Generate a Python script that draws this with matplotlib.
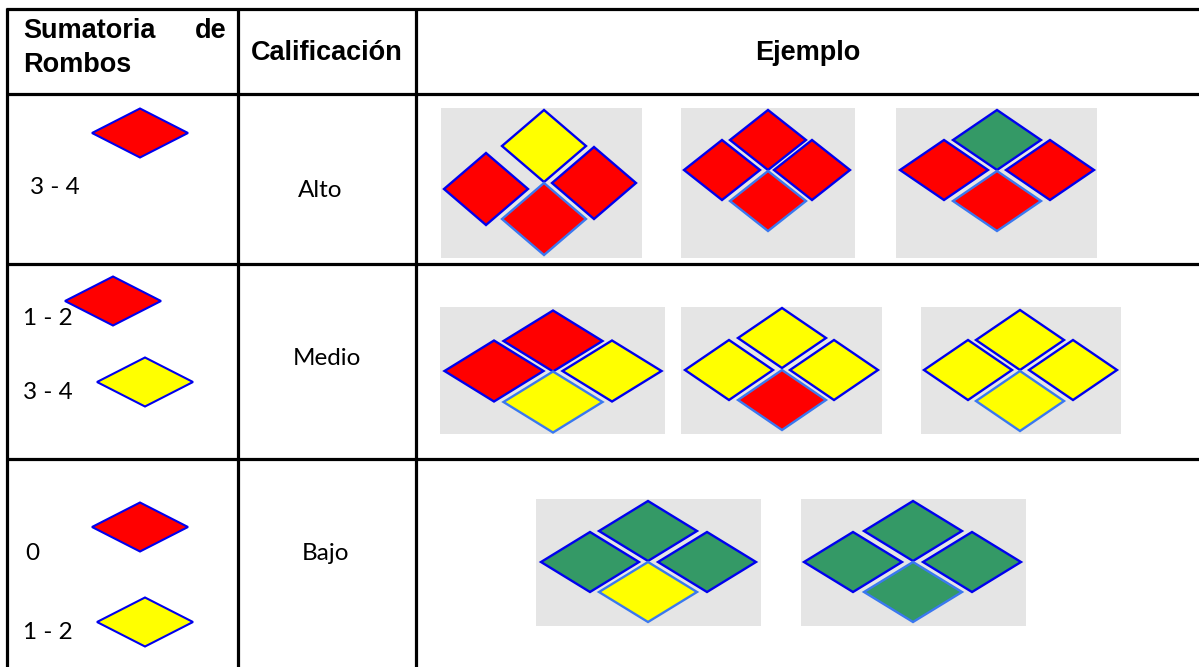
"""
Tabla de calificación por sumatoria de rombos, redibujada con matplotlib.
Todo se dibuja en coordenadas de píxel sobre un único eje sin marcos.
"""

import matplotlib

matplotlib.use("Agg")
import matplotlib.pyplot as plt
from matplotlib.patches import Polygon, Rectangle

# ---- datos ----
HEADERS = ["Calificación", "Ejemplo"]
RATINGS = ["Alto", "Medio", "Bajo"]
# etiquetas de la primera columna y color del rombo de referencia
ROW_LABELS = [["3 - 4"], ["1 - 2", "3 - 4"], ["0", "1 - 2"]]
ROW_COLORS = [["red"], ["red", "yellow"], ["red", "yellow"]]
# ejemplos: colores en orden (arriba, izquierda, derecha, abajo)
EXAMPLES_ALTO = [["yellow", "red", "red", "red"],
                 ["red", "red", "red", "red"],
                 ["green", "red", "red", "red"]]
EXAMPLES_MEDIO = [["red", "red", "yellow", "yellow"],
                  ["yellow", "yellow", "yellow", "red"],
                  ["yellow", "yellow", "yellow", "yellow"]]
EXAMPLES_BAJO = [["green", "green", "green", "yellow"],
                 ["green", "green", "green", "green"]]

FILL = {"red": "#ff0000", "yellow": "#ffff00", "green": "#349966"}
EDGE = "#0000ee"
EDGE_LOW = "#3a78f0"   # borde más claro del rombo inferior
GRAY = "#e5e5e5"

# ---- geometría (px) ----
W, H = 1199, 667
COL_X = [7, 238, 416]
ROW_Y = [9, 94, 264, 459]
BODY_FONT = ["Lato", "DejaVu Sans"]
HEAD_FONT = ["Liberation Sans", "DejaVu Sans"]

# caja gris (x0, y0, w, h), tamaño de rombo (w, h), centros (arriba, izq, der, abajo)
PANELS = [
    [((441, 108, 201, 150), (84, 72), [(544, 146), (486, 189), (594, 183), (544, 219)]),
     ((681, 108, 174, 150), (76, 60), [(768, 140), (722, 170), (812, 170), (768, 201)]),
     ((896, 108, 201, 150), (88, 60), [(997, 140), (944, 170), (1050, 170), (997, 201)])],
    [((440, 307, 225, 127), (99, 61), [(553, 341), (494, 371), (612, 371), (553, 402)]),
     ((681, 307, 201, 127), (88, 60), [(782, 338), (729, 370), (834, 370), (782, 400)]),
     ((921, 307, 200, 127), (88, 60), [(1020, 340), (968, 370), (1073, 370), (1020, 401)])],
    [((536, 499, 225, 127), (98, 60), [(648, 531), (590, 562), (707, 562), (648, 592)]),
     ((801, 499, 225, 127), (98, 60), [(913, 531), (853, 562), (972, 562), (913, 592)])],
]
# rombos de referencia de la primera columna: centro y tamaño
REF_DIAMONDS = [[(140, 133)], [(113, 301), (145, 382)], [(140, 527), (145, 622)]]
REF_SIZE = (96, 49)
LABEL_POS = [[(30, 194)], [(23, 325), (23, 399)], [(25, 560), (23, 639)]]
RATING_POS = [(320, 197), (327, 365), (326, 560)]


def diamond(ax, cx, cy, w, h, fc, ec, lw=1.7):
    pts = [(cx, cy - h / 2), (cx + w / 2, cy), (cx, cy + h / 2), (cx - w / 2, cy)]
    ax.add_patch(Polygon(pts, closed=True, facecolor=fc, edgecolor=ec,
                         lw=lw, joinstyle="miter", zorder=3))


def main():
    fig = plt.figure(figsize=(W / 100, H / 100), dpi=100)
    ax = fig.add_axes([0, 0, 1, 1])
    ax.set_xlim(0, W)
    ax.set_ylim(H, 0)
    ax.axis("off")

    # ---- líneas de la tabla ----
    for y in ROW_Y:
        ax.plot([COL_X[0] - 1, W], [y, y], color="black", lw=2.3, solid_capstyle="butt")
    for x in COL_X:
        ax.plot([x, x], [ROW_Y[0] - 1, H], color="black", lw=2.3, solid_capstyle="butt")

    # ---- cabecera ----
    hk = dict(family=HEAD_FONT, fontweight="bold", fontsize=19.5, va="baseline")
    ax.text(23, 38, "Sumatoria", ha="left", **hk)
    ax.text(227, 38, "de", ha="right", **hk)
    ax.text(23, 72, "Rombos", ha="left", **hk)
    ax.text((COL_X[1] + COL_X[2]) / 2, 60, HEADERS[0], ha="center", **hk)
    ax.text(808, 60, HEADERS[1], ha="center", **hk)

    # ---- filas ----
    examples = [EXAMPLES_ALTO, EXAMPLES_MEDIO, EXAMPLES_BAJO]
    bk = dict(family=BODY_FONT, fontsize=17.5, va="baseline")
    for r, rating in enumerate(RATINGS):
        for lab, (lx, ly) in zip(ROW_LABELS[r], LABEL_POS[r]):
            ax.text(lx, ly, lab, ha="left", **bk)
        for col, (cx, cy) in zip(ROW_COLORS[r], REF_DIAMONDS[r]):
            diamond(ax, cx, cy, REF_SIZE[0], REF_SIZE[1], FILL[col], EDGE, lw=1.5)
        rx, ry = RATING_POS[r]
        ax.text(rx, ry, rating, ha="center", **bk)

        for colors, (box, size, centers) in zip(examples[r], PANELS[r]):
            x0, y0, bw, bh = box
            ax.add_patch(Rectangle((x0, y0), bw, bh, facecolor=GRAY,
                                   edgecolor="none", zorder=1))
            for i, (col, (cx, cy)) in enumerate(zip(colors, centers)):
                ec = EDGE_LOW if i == 3 else EDGE
                diamond(ax, cx, cy, size[0], size[1], FILL[col], ec)

    fig.savefig("out.png", dpi=100)
    plt.close(fig)


if __name__ == "__main__":
    main()
